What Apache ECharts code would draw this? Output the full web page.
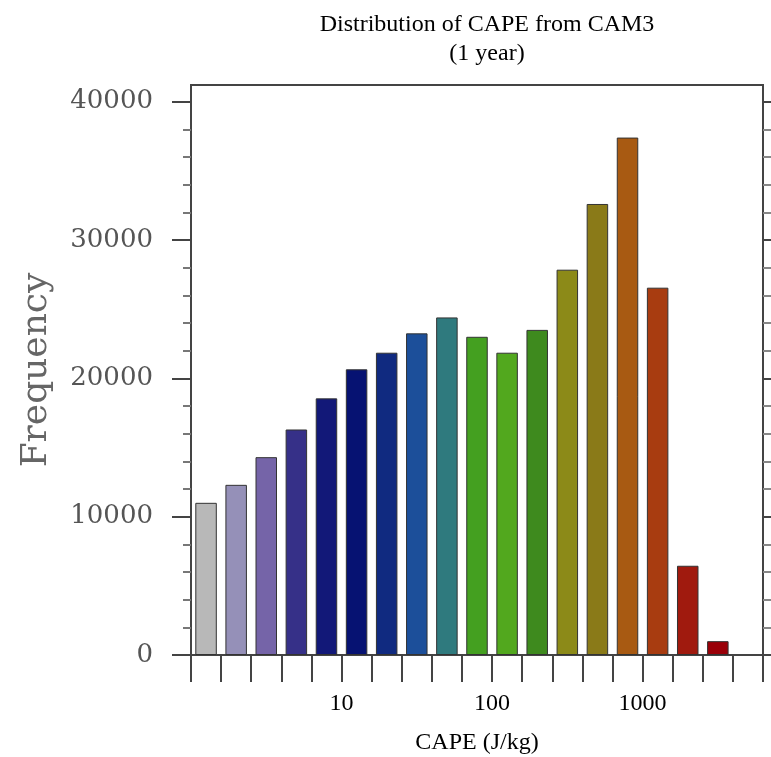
<!DOCTYPE html>
<html>
<head>
<meta charset="utf-8">
<script src="https://cdn.jsdelivr.net/npm/echarts@6/dist/echarts.min.js"></script>
<style>
  html, body { margin: 0; padding: 0; background: #fff; }
  #chart { width: 771px; height: 757px; }
</style>
</head>
<body>
<div id="chart"></div>
<script>
// CAPE histogram, 5 log bins per decade (bin edges 1 .. 10^3.8)
const binCount = 19;
const frequency = [
  11000, 12300, 14300, 16300, 18550, 20650, 21850, 23250, 24400,
  23000, 21850, 23500, 27850, 32600, 37400, 26550, 6450, 1000
];
const barColors = [
  '#b8b8b8', '#9590b8', '#7564a8', '#363088', '#121878', '#061272',
  '#102a80', '#1c4f9a', '#2f7a7e', '#44a020', '#52a81e', '#3e8a1e',
  '#8c8a18', '#8a7a18', '#a85a12', '#a83c10', '#a01a0e', '#9a0008'
];
const xLabelPos = [5, 10, 15];
const xLabelText = ['10', '100', '1000'];
const yMajor = [0, 10000, 20000, 30000, 40000];
const yMinorStep = 2000;
const yMax = 41200;

const yMinor = [];
for (let v = 0; v <= yMajor[yMajor.length - 1]; v += yMinorStep) {
  if (yMajor.indexOf(v) < 0) yMinor.push(v);
}
const edges = [];
for (let i = 0; i <= binCount; i++) edges.push(i);

const barData = frequency.map((f, i) => ({
  value: [i + 0.5, f],
  itemStyle: { color: barColors[i] },
}));

const serif = 'Liberation Serif';
const chart = echarts.init(document.getElementById('chart'));

const yBase = { type: 'value', min: 0, max: yMax, splitLine: { show: false } };

chart.setOption({
  animation: false,
  backgroundColor: '#ffffff',
  title: {
    text: 'Distribution of CAPE from CAM3\n(1 year)',
    left: 482,
    top: 5,
    textAlign: 'center',
    textStyle: {
      fontFamily: serif,
      fontWeight: 'normal',
      fontSize: 24,
      lineHeight: 29,
      color: '#000',
    },
  },
  grid: {
    left: 191,
    right: 8,
    top: 85,
    bottom: 102,
    outerBoundsMode: 'none',
    show: true,
    borderColor: '#444',
    borderWidth: 2,
  },
  xAxis: {
    type: 'value',
    min: 0,
    max: binCount,
    interval: 1,
    splitLine: { show: false },
    axisLine: { lineStyle: { color: '#444', width: 2 } },
    axisTick: {
      inside: false,
      length: 27,
      customValues: edges,
      lineStyle: { color: '#444', width: 2 },
    },
    axisLabel: {
      customValues: xLabelPos,
      margin: 37,
      fontFamily: serif,
      fontSize: 24,
      color: '#000',
      formatter: (v) => xLabelText[xLabelPos.indexOf(v)] || '',
    },
    name: 'CAPE (J/kg)',
    nameLocation: 'middle',
    nameGap: 76,
    nameTextStyle: { fontFamily: serif, fontSize: 24, color: '#000' },
  },
  yAxis: [
    Object.assign({}, yBase, {
      position: 'left',
      axisLine: { show: true, lineStyle: { color: '#444', width: 2 } },
      axisTick: {
        length: 19,
        customValues: yMajor,
        lineStyle: { color: '#444', width: 2 },
      },
      axisLabel: {
        customValues: yMajor,
        margin: 38,
        fontFamily: 'DejaVu Serif',
        fontSize: 26,
        color: '#555',
        formatter: (v) => String(v),
      },
      name: 'Frequency',
      nameLocation: 'middle',
      nameGap: 136,
      nameTextStyle: { fontFamily: 'DejaVu Serif', fontSize: 36, color: '#666' },
    }),
    Object.assign({}, yBase, {
      position: 'left',
      axisLine: { show: false },
      axisTick: {
        show: true,
        length: 8,
        customValues: yMinor,
        lineStyle: { color: '#777', width: 2 },
      },
      axisLabel: { show: false },
    }),
    Object.assign({}, yBase, {
      position: 'right',
      axisLine: { show: true, lineStyle: { color: '#444', width: 2 } },
      axisTick: {
        length: 9,
        customValues: yMajor,
        lineStyle: { color: '#444', width: 2 },
      },
      axisLabel: { show: false },
    }),
    Object.assign({}, yBase, {
      position: 'right',
      axisLine: { show: false },
      axisTick: {
        show: true,
        length: 9,
        customValues: yMinor,
        lineStyle: { color: '#888', width: 2 },
      },
      axisLabel: { show: false },
    }),
  ],
  series: [
    {
      type: 'bar',
      data: barData,
      barWidth: 21.5,
      itemStyle: { borderColor: '#333', borderWidth: 1 },
    },
  ],
});
</script>
</body>
</html>
